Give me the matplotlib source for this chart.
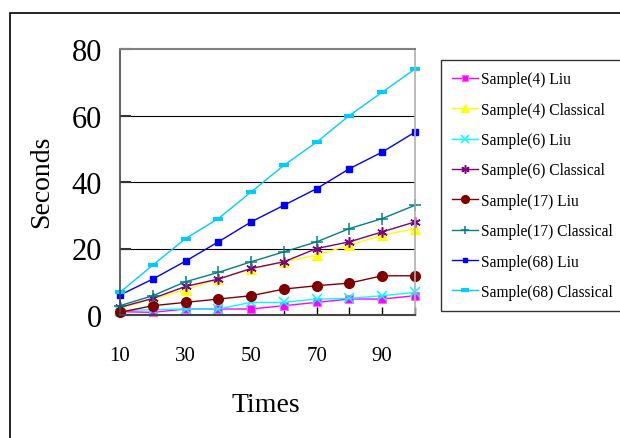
import matplotlib
matplotlib.use("Agg")
import matplotlib.pyplot as plt
from matplotlib.patches import Rectangle

plt.rcParams['font.family'] = ['Liberation Serif', 'DejaVu Serif']

times = [10, 20, 30, 40, 50, 60, 70, 80, 90, 100]
tick_labels = ['10', '', '30', '', '50', '', '70', '', '90', '']
y_ticks = [0, 20, 40, 60, 80]

s4_liu = [1, 0.8, 1.8, 1.8, 1.8, 2.8, 3.8, 4.8, 4.8, 5.8]
s4_cls = [2, 4.8, 7.6, 10.8, 13.8, 16, 18, 21, 24, 26]
s6_liu = [1.3, 1.6, 1.8, 1.8, 3.8, 3.8, 4.8, 5, 5.8, 6.8]
s6_cls = [2.3, 5, 8.6, 10.8, 14, 16, 20, 22, 25, 28]
s17_liu = [0.8, 2.8, 3.8, 4.8, 5.8, 7.8, 8.8, 9.6, 11.8, 11.8]
s17_cls = [2.8, 5.8, 10, 12.8, 16, 19, 22, 26, 29, 33]
s68_liu = [6, 10.8, 16.2, 22, 28, 33, 38, 44, 49, 55]
s68_cls = [6.8, 15, 23, 29, 37, 45, 52, 60, 67, 74]

names = ['Sample(4) Liu', 'Sample(4) Classical', 'Sample(6) Liu', 'Sample(6) Classical',
         'Sample(17) Liu', 'Sample(17) Classical', 'Sample(68) Liu', 'Sample(68) Classical']
series = [s4_liu, s4_cls, s6_liu, s6_cls, s17_liu, s17_cls, s68_liu, s68_cls]

styles = [
    dict(color='#FF00FF', marker='s', ms=6.2, mec='#FF66FF', mew=0.8),
    dict(color='#FFFF00', marker='^', ms=7, mec='#FFFF00', mew=0.8),
    dict(color='#00FFFF', marker='x', ms=6.5, mew=1.1),
    dict(color='#800080', marker=(6, 2, 0), ms=7.5, mew=1.1),
    dict(color='#800000', marker='o', ms=7, mec='#800000'),
    dict(color='#008080', marker='+', ms=8, mew=1.1),
    dict(color='#0000FF', marker='s', ms=3.8, mec='#0000FF'),
    dict(color='#00CCFF', marker='_', ms=6.5, mew=3),
]

W, H = 620, 439
fig = plt.figure(figsize=(W / 100, H / 100), dpi=100)
fig.patch.set_facecolor('white')

# outer chart border
fig.patches.append(Rectangle((10 / W, -0.1), 1.2, 1.1 - 14 / H,
                             transform=fig.transFigure, fill=False,
                             edgecolor='black', linewidth=1.2, zorder=0))

ax = fig.add_axes([120 / W, (H - 316) / H, 295 / W, 266 / H])
ax.set_facecolor('white')

lines = []
for name, vals, st in zip(names, series, styles):
    ln, = ax.plot(times, vals, linewidth=1.0, label=name, clip_on=False, **st)
    lines.append(ln)

ax.set_xlim(10, 100)
ax.set_ylim(0, 80)
ax.set_xticks(times)
ax.set_xticklabels(tick_labels)
ax.set_yticks(y_ticks)
for yv in y_ticks[1:-1]:
    ax.axhline(yv, color='black', linewidth=0.8, zorder=0.5)

ax.tick_params(axis='x', direction='in', length=6, width=1, colors='black',
               labelsize=15, pad=22)
ax.tick_params(axis='y', direction='in', length=8, width=1.5, colors='#333333',
               labelsize=22, labelcolor='black', pad=13)

ax.spines['left'].set_color('#444444')
ax.spines['left'].set_linewidth(1.2)
ax.spines['bottom'].set_color('#444444')
ax.spines['bottom'].set_linewidth(1.5)
ax.spines['top'].set_color('#808080')
ax.spines['top'].set_linewidth(1.5)
ax.spines['right'].set_color('#b0b0b0')
ax.spines['right'].set_linewidth(1.2)

fig.text(42 / W, 1 - 182 / H, 'Seconds', rotation=90, ha='center', va='center', fontsize=20)
fig.text(266 / W, 1 - 406 / H, 'Times', ha='center', va='center', fontsize=20)

leg = fig.legend(handles=lines, labels=names, loc='upper left',
                 bbox_to_anchor=(441 / W, 1 - 61 / H), borderaxespad=0,
                 frameon=True, fancybox=False, fontsize=11.2,
                 handlelength=1.65, handletextpad=0.2, labelspacing=0.925,
                 borderpad=0.72, markerscale=0.8)
leg.get_frame().set_edgecolor('black')
leg.get_frame().set_linewidth(1.0)

fig.savefig('out.png', dpi=100, facecolor='white')
